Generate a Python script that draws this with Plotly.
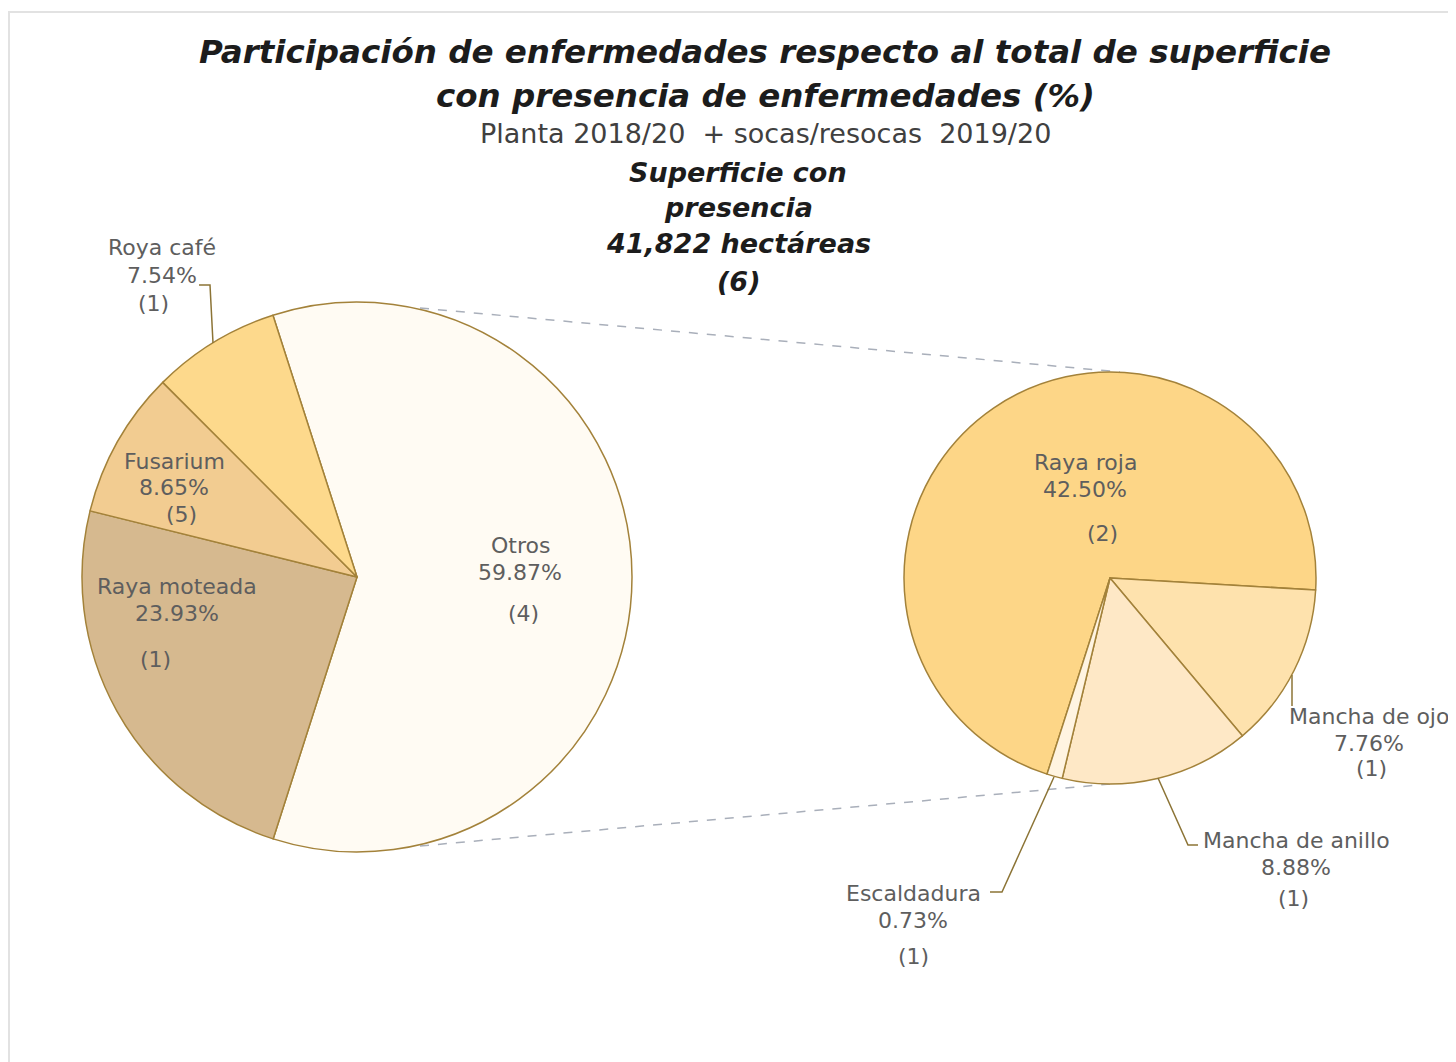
import plotly.graph_objects as go

# ---------------- data ----------------
main_names = ["Otros", "Raya moteada", "Fusarium", "Roya café"]
main_values = [59.87, 23.93, 8.65, 7.54]
main_counts = [4, 1, 5, 1]

sub_names = ["Raya roja", "Mancha de ojo", "Mancha de anillo", "Escaldadura"]
sub_values = [42.50, 7.76, 8.88, 0.73]
sub_counts = [2, 1, 1, 1]

title_lines = ["Participación de enfermedades respecto al total de superficie",
               "con presencia de enfermedades (%)"]
subtitle = "Planta 2018/20  + socas/resocas  2019/20"
center_lines = ["Superficie con", "presencia", "41,822 hectáreas", "(6)"]

# ---------------- styles ----------------
main_colors = ["#FFFBF3", "#D6B98F", "#F2CC91", "#FDD98C"]
sub_colors = ["#FDD687", "#FEE2AD", "#FEE8C6", "#FFF4E1"]
edge = "#A3823A"
label_color = "#5E5E5E"
W, H = 1448, 1054
OFF = 8  # page body margin


def X(px):
    return (px - OFF) / W


def Y(py):
    return 1 - (py - OFF) / H


def circle_domain(cx, cy, r):
    return dict(x=[X(cx - r), X(cx + r)], y=[Y(cy + r), Y(cy - r)])


fig = go.Figure()
fig.add_trace(go.Pie(
    labels=main_names, values=main_values, sort=False, direction="clockwise",
    rotation=-17.8, textinfo="none", hoverinfo="label+percent",
    marker=dict(colors=main_colors, line=dict(color=edge, width=1.5)),
    domain=circle_domain(357, 577, 275), showlegend=False,
))
fig.add_trace(go.Pie(
    labels=sub_names, values=sub_values, sort=False, direction="clockwise",
    rotation=-162.2, textinfo="none", hoverinfo="label+value",
    marker=dict(colors=sub_colors, line=dict(color=edge, width=1.5)),
    domain=circle_domain(1110, 578, 206), showlegend=False,
))

ann = []
tfont = dict(family="DejaVu Sans", size=32.5, color="#1c1c1c", weight="bold", style="italic")
for txt, yy in zip(title_lines, [52, 96]):
    ann.append(dict(text=txt, x=X(765), y=Y(yy), font=tfont))
ann.append(dict(text=subtitle, x=X(765), y=Y(134),
                font=dict(family="DejaVu Sans", size=27, color="#404040")))
cfont = dict(family="DejaVu Sans", size=27, color="#1c1c1c", weight="bold", style="italic")
for txt, yy in zip(center_lines, [172, 208, 244, 281]):
    ann.append(dict(text=txt, x=X(738), y=Y(yy), font=cfont))

# label positions (layout): name line x,y ; count line x,y
main_pos = [(520, 545, 523, 613), (177, 586, 155, 659), (174, 461, 181, 514), (162, 248, 153, 303)]
sub_pos = [(1085, 463, 1102, 533), (1369, 716, 1371, 768), (1296, 840, 1293, 898), (913, 893, 913, 956)]
lfont = dict(family="DejaVu Sans", size=22, color=label_color)
for names, vals, cnts, pos in [(main_names, main_values, main_counts, main_pos),
                               (sub_names, sub_values, sub_counts, sub_pos)]:
    for n, v, c, (nx, ny, cx, cy) in zip(names, vals, cnts, pos):
        ann.append(dict(text=n, x=X(nx), y=Y(ny), font=lfont))
        ann.append(dict(text=f"{v:.2f}%", x=X(nx), y=Y(ny + 27), font=lfont))
        ann.append(dict(text=f"({c})", x=X(cx), y=Y(cy), font=lfont))

for a in ann:
    a.update(xref="paper", yref="paper", showarrow=False, xanchor="center", yanchor="middle")

shapes = []
# connector dashed lines
for (x0, y0, x1, y1) in [(420, 308, 1120, 372), (420, 846, 1110, 784)]:
    shapes.append(dict(type="line", xref="paper", yref="paper", x0=X(x0), y0=Y(y0), x1=X(x1), y1=Y(y1),
                       line=dict(color="#A9AFBA", width=1.5, dash="dash"), layer="below"))


def path(pts):
    return "M " + " L ".join(f"{X(a)},{Y(b)}" for a, b in pts)


leaders = [
    [(213, 343), (210, 285), (199, 285)],
    [(1292, 675), (1292, 706)],
    [(1158, 778), (1188, 845), (1198, 845)],
    [(1054, 777), (1002, 892), (990, 892)],
]
for pts in leaders:
    shapes.append(dict(type="path", xref="paper", yref="paper", path=path(pts),
                       line=dict(color="#8C7436", width=1.5)))

# card border
shapes.append(dict(type="line", xref="paper", yref="paper", x0=X(8), x1=X(1456), y0=Y(12), y1=Y(12),
                   line=dict(color="#E2E2E2", width=2), layer="below"))
shapes.append(dict(type="line", xref="paper", yref="paper", x0=X(9), x1=X(9), y0=Y(12), y1=Y(1062),
                   line=dict(color="#E2E2E2", width=2), layer="below"))
shapes.append(dict(type="line", xref="paper", yref="paper", x0=X(1453), x1=X(1453), y0=Y(12), y1=Y(1062),
                   line=dict(color="#F0F0F0", width=1), layer="below"))

fig.update_layout(
    width=W, height=H, margin=dict(l=0, r=0, t=0, b=0),
    paper_bgcolor="white", plot_bgcolor="white",
    annotations=ann, shapes=shapes,
)
fig.write_html("out.html")
